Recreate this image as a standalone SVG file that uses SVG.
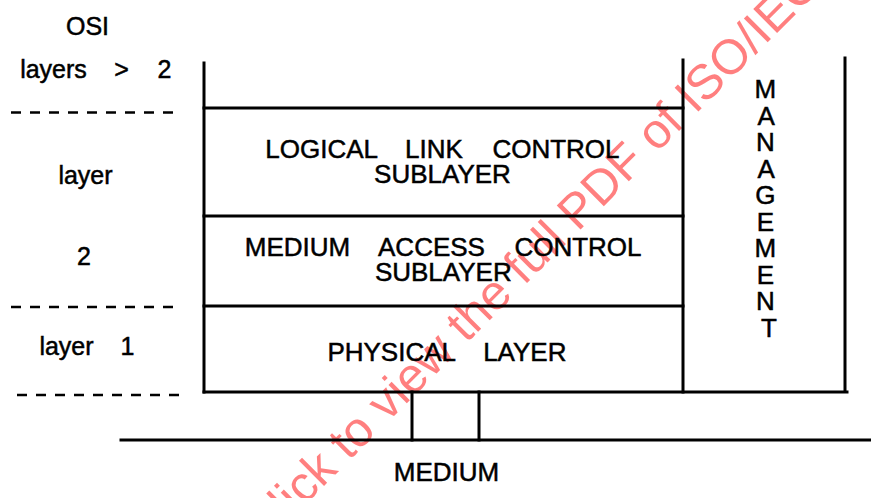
<svg xmlns="http://www.w3.org/2000/svg" width="871" height="498" viewBox="0 0 871 498">
<style>
  .ln { stroke: #000; stroke-width: 3; fill: none; stroke-linecap: square; }
  .dash { stroke: #000; stroke-width: 2.5; fill: none; stroke-dasharray: 10 9; }
  .t { font-family: "Liberation Sans", Arial, sans-serif; font-size: 26px; fill: #000; stroke: #000; stroke-width: 0.5; text-anchor: middle; }
  .lt { font-family: "Liberation Sans", Arial, sans-serif; font-size: 25px; fill: #000; stroke: #000; stroke-width: 0.5; text-anchor: middle; }
  .wm { font-family: "Liberation Sans", Arial, sans-serif; font-size: 49px; fill: #ff0000; fill-opacity: 0.5; }
</style>
<rect width="871" height="498" fill="#fff"/>
<text class="wm" transform="translate(264,546) rotate(-45)">Click to view the full PDF of ISO/IEC</text>

<g id="osi-labels">
  <text class="lt" x="87.5" y="35">OSI</text>
  <text class="lt" y="78"><tspan x="53.5">layers</tspan><tspan x="121.5">&gt;</tspan><tspan x="164.5">2</tspan></text>
  <text class="lt" x="85.5" y="184">layer</text>
  <text class="lt" x="84" y="265">2</text>
  <text class="lt" y="355"><tspan x="66.5">layer</tspan><tspan x="127.5">1</tspan></text>
  <line class="dash" x1="11" y1="112.5" x2="175" y2="112.5"/>
  <line class="dash" x1="11" y1="307" x2="174" y2="307"/>
  <line class="dash" x1="17" y1="395" x2="180" y2="395"/>
</g>

<g id="stack-frame">
  <line class="ln" x1="204" y1="63" x2="204" y2="392"/>
  <line class="ln" x1="204" y1="392" x2="847" y2="392"/>
</g>

<g id="llc">
  <line class="ln" x1="204" y1="108" x2="683" y2="108"/>
  <text class="t" y="158"><tspan x="321.7">LOGICAL</tspan><tspan x="434">LINK</tspan><tspan x="556">CONTROL</tspan></text>
  <text class="t" x="442.5" y="183">SUBLAYER</text>
</g>

<g id="mac">
  <line class="ln" x1="204" y1="216" x2="683" y2="216"/>
  <text class="t" y="256"><tspan x="297.5">MEDIUM</tspan><tspan x="431.5">ACCESS</tspan><tspan x="578">CONTROL</tspan></text>
  <text class="t" x="443.3" y="281">SUBLAYER</text>
</g>

<g id="phy">
  <line class="ln" x1="204" y1="306" x2="683" y2="306"/>
  <text class="t" y="361"><tspan x="391.7">PHYSICAL</tspan><tspan x="524.8">LAYER</tspan></text>
</g>

<g id="management">
  <line class="ln" x1="683" y1="60" x2="683" y2="392"/>
  <line class="ln" x1="845" y1="58" x2="845" y2="391"/>
  <text class="t" x="769">
    <tspan x="769" y="98">M</tspan>
    <tspan x="769" y="124.5">A</tspan>
    <tspan x="769" y="151">N</tspan>
    <tspan x="769" y="177.5">A</tspan>
    <tspan x="769" y="204">G</tspan>
    <tspan x="769" y="230.5">E</tspan>
    <tspan x="769" y="257">M</tspan>
    <tspan x="769" y="283.5">E</tspan>
    <tspan x="769" y="310">N</tspan>
    <tspan x="769" y="336.5">T</tspan>
  </text>
</g>

<g id="medium">
  <line class="ln" x1="121" y1="440" x2="871" y2="440"/>
  <text class="t" x="446.5" y="481">MEDIUM</text>
</g>

<g id="connectors">
  <line class="ln" x1="412" y1="392" x2="412" y2="440"/>
  <line class="ln" x1="479" y1="392" x2="479" y2="440"/>
</g>
</svg>
